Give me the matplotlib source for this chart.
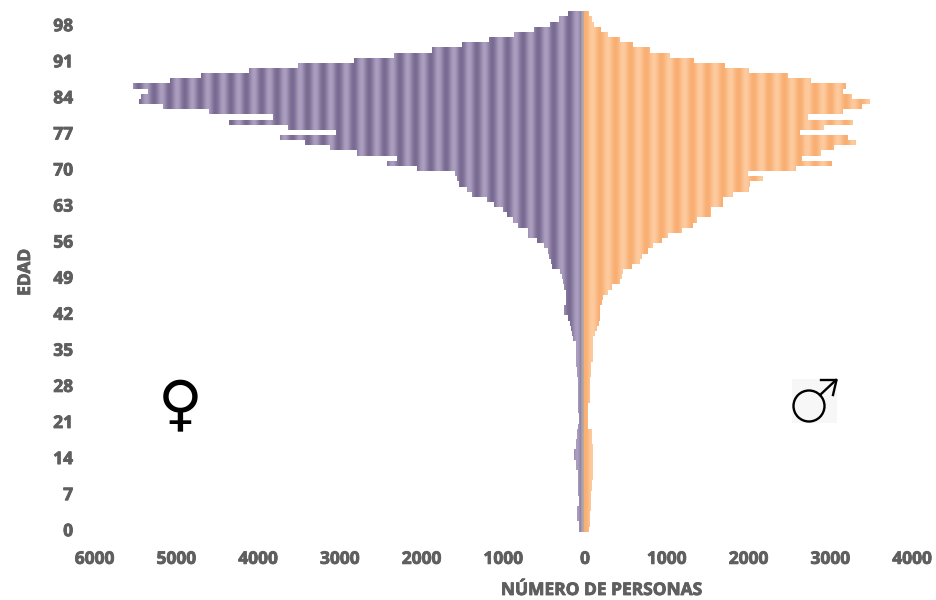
import numpy as np
import matplotlib
matplotlib.use("Agg")
import matplotlib.pyplot as plt
import matplotlib.patheffects as pe
from matplotlib.patches import Circle, Rectangle
from matplotlib.path import Path
from matplotlib.transforms import ScaledTranslation

edad = list(range(0, 101))
mujeres = [45, 45, 69, 69, 69, 45, 45, 57, 57, 57,
           57, 57, 86, 86, 106, 106, 90, 90, 69, 69,
           65, 45, 45, 57, 57, 57, 57, 57, 57, 57,
           77, 77, 90, 90, 90, 85, 90, 118, 135, 147,
           159, 179, 228, 228, 212, 212, 212, 232, 241, 261,
           281, 383, 395, 416, 424, 477, 566, 669, 669, 791,
           860, 933, 975, 1089, 1170, 1362, 1423, 1513, 1545, 1566,
           2034, 2401, 2279, 2768, 3095, 3397, 3706, 3021, 3604, 4330,
           3788, 4571, 5134, 5431, 5410, 5317, 5508, 5052, 4676, 4082,
           3490, 2797, 2312, 1851, 1484, 1146, 840, 599, 404, 290,
           180]
hombres = [70, 86, 86, 86, 94, 94, 94, 94, 106, 106,
           118, 118, 118, 118, 126, 126, 126, 106, 106, 106,
           65, 65, 65, 65, 65, 86, 86, 86, 86, 86,
           94, 94, 94, 118, 118, 118, 118, 126, 147, 167,
           196, 208, 208, 208, 229, 249, 310, 351, 453, 473,
           493, 595, 697, 718, 799, 860, 962, 1044, 1207, 1349,
           1391, 1562, 1562, 1716, 1716, 1839, 2035, 2043, 2206, 2015,
           2602, 3042, 2675, 2911, 3074, 3336, 3245, 2654, 2948, 3307,
           2756, 3176, 3409, 3511, 3294, 3185, 3213, 2789, 2512, 2030,
           1737, 1362, 1064, 820, 607, 453, 302, 220, 138, 106,
           73]
x_ticks = [-6000, -5000, -4000, -3000, -2000, -1000, 0, 1000, 2000, 3000, 4000]
y_ticks = list(range(0, 99, 7))

GRIS = "#5f5f5f"
GRUESO = [pe.withStroke(linewidth=0.6, foreground=GRIS)]
plt.rcParams["font.family"] = ["Open Sans", "DejaVu Sans"]

fig = plt.figure(figsize=(9.37, 6), dpi=100)
ax = fig.add_axes([92.5 / 937, (600 - 531.8) / 600, (910 - 92.5) / 937, (531.8 - 11.3) / 600])


def bandas(claro, oscuro, x0, x1):
    # soft vertical stripes of the original picture, period about 188 persons
    xs = np.linspace(x0, x1, 1200)
    t = 0.5 + 0.5 * np.cos(2 * np.pi * (xs + 73) / 188)
    claro = np.array(matplotlib.colors.to_rgb(claro))
    oscuro = np.array(matplotlib.colors.to_rgb(oscuro))
    return (oscuro + (claro - oscuro) * t[:, None])[None, :, :]


def piramide(valores, claro, oscuro, x0, x1):
    barras = ax.barh(edad, valores, height=1.0, color=oscuro, linewidth=0)
    img = ax.imshow(bandas(claro, oscuro, x0, x1), extent=[x0, x1, -0.5, 100.5],
                    aspect="auto", interpolation="bilinear", zorder=2)
    trozos = [b.get_path().transformed(b.get_patch_transform()) for b in barras]
    img.set_clip_path(Path.make_compound_path(*trozos), ax.transData)


piramide([-m for m in mujeres], "#ab9ebf", "#786a91", -6000, 0)
piramide(hombres, "#fdcb9f", "#f9ae72", 0, 4000)
ax.axvline(-10, color="#aaa6aa", lw=1.8, zorder=3)

ax.set_xlim(-6000, 4000)
ax.set_ylim(-0.5, 100.5)
for s in ax.spines.values():
    s.set_visible(False)
ax.set_xticks(x_ticks)
ax.set_xticklabels([str(abs(v)) for v in x_ticks], fontsize=12.5, fontweight="bold", color=GRIS,
                   path_effects=GRUESO)
ax.set_yticks(y_ticks)
ax.set_yticklabels([str(v) for v in y_ticks], fontsize=12.5, fontweight="bold", color=GRIS,
                   path_effects=GRUESO)
ax.tick_params(length=0)
ax.tick_params(axis="x", pad=13)
ax.tick_params(axis="y", pad=14)
for t in ax.get_xticklabels():
    # labels sit about 2 px right of their ticks in the original
    t.set_transform(t.get_transform() + ScaledTranslation(2 / 100, 0, fig.dpi_scale_trans))

fig.text(601 / 937, 1 - 590 / 600, "NÚMERO DE PERSONAS", ha="center", va="center",
         fontsize=12.5, fontweight="bold", color=GRIS, path_effects=GRUESO)
fig.text(25 / 937, 1 - 272.5 / 600, "EDAD", ha="center", va="center", rotation=90,
         fontsize=12.5, fontweight="bold", color=GRIS, path_effects=GRUESO)

fig.text(180 / 937, 1 - 408 / 600, "♀", ha="center", va="center", fontsize=44,
         fontweight="bold", family="DejaVu Sans", color="black")

# male sign sits on a faint grey box in the original, coordinates in pixels
capa = fig.add_axes([0, 0, 1, 1], facecolor="none")
capa.set_xlim(0, 937)
capa.set_ylim(600, 0)
capa.axis("off")
capa.add_patch(Rectangle((792, 379), 45, 44, color="#f7f7f7", lw=0))
capa.add_patch(Circle((809, 406), 15.5, fill=False, ec="black", lw=1.7))
capa.plot([820, 836], [395, 380], color="black", lw=1.7)
capa.plot([821, 836.5, 833], [380, 380, 395], color="black", lw=1.7)

fig.savefig("out.png", dpi=100)
